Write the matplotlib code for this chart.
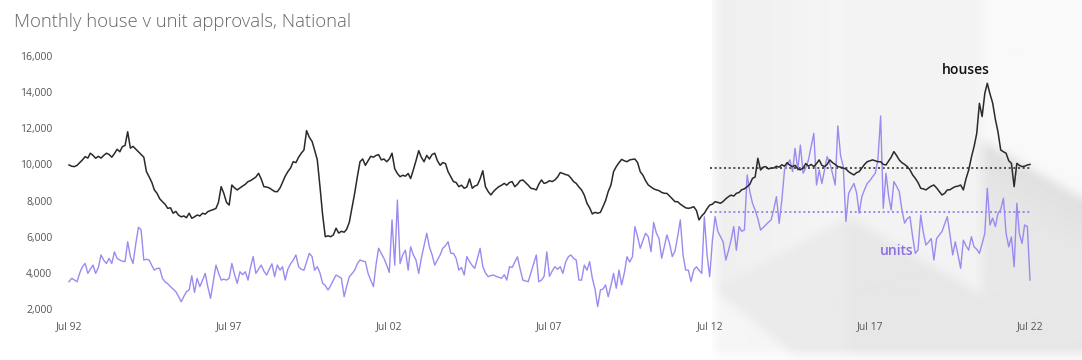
import numpy as np
import pandas as pd
import matplotlib
matplotlib.use("Agg")
import matplotlib.pyplot as plt

# ---------------- data (monthly, Jul 1992 .. Jul 2022) ----------------
start_month = "1992-07"
end_month = "2022-07"

houses = [
    9970, 9900, 9880, 9950, 10100, 10250, 10430, 10350, 10620, 10500, 10340, 10450,
    10350, 10500, 10620, 10550, 10400, 10600, 10840, 10700, 10980, 11050, 11810, 10900,
    11000, 10850, 10700, 10550, 10400, 9600, 9310, 9000, 8590, 8400, 8100, 7940,
    7800, 7570, 7600, 7300, 7400, 7200, 7100, 7150, 7050, 7300, 7020, 7100,
    7200, 7150, 7300, 7250, 7390, 7450, 7500, 7570, 7900, 8770, 8400, 7900,
    7750, 8860, 8700, 8590, 8700, 8800, 8900, 9050, 9100, 9200, 9300, 9510,
    9200, 8770, 8750, 8700, 8600, 8500, 8490, 8700, 9000, 9350, 9600, 9800,
    10150, 10100, 10400, 10620, 10800, 11870, 11500, 11280, 10800, 10250, 8800, 7200,
    6000, 6050, 6000, 6100, 6470, 6200, 6300, 6250, 6400, 6800, 7600, 8400,
    9300, 10150, 10300, 9950, 10200, 10450, 10400, 10500, 10540, 10250, 10300, 10150,
    10300, 10620, 9760, 9500, 9320, 9400, 9350, 9500, 9220, 9700, 10200, 10760,
    10400, 10150, 10500, 10300, 10550, 10620, 10200, 9950, 10100, 10050, 9600, 9320,
    9050, 9000, 8770, 8850, 8680, 8750, 9200, 8680, 8800, 8860, 9200, 9650,
    8770, 8500, 8310, 8500, 8650, 8770, 8850, 8950, 8850, 9000, 9050, 8770,
    8900, 9100, 9140, 9000, 8850, 8680, 8650, 8590, 8900, 9140, 8950, 9000,
    9100, 9050, 9140, 9300, 9550, 9500, 9440, 9400, 9250, 9050, 8950, 8750,
    8590, 8300, 7850, 7600, 7260, 7350, 7300, 7350, 7650, 8000, 8500, 8860,
    9600, 9880, 10100, 10280, 10200, 10150, 10250, 10280, 10300, 10100, 9600, 9400,
    9100, 8860, 8750, 8650, 8590, 8550, 8450, 8400, 8400, 8250, 8100, 7940,
    7940, 7800, 7700, 7600, 7570, 7600, 7660, 7450, 6930, 7150, 7300, 7550,
    7750, 7800, 7940, 7900, 7850, 7950, 8100, 8220, 8300, 8250, 8400, 8450,
    8600, 8650, 8770, 8900, 9230, 9300, 10340, 9690, 9850, 9880, 9750, 9800,
    9800, 9900, 9850, 9980, 9900, 10100, 9950, 9880, 9950, 9750, 9700, 9800,
    10050, 9900, 10000, 9880, 10050, 10250, 9950, 9880, 10000, 10250, 10100, 10000,
    9880, 9850, 9800, 9750, 9600, 9500, 9420, 9550, 9600, 9800, 10000, 10150,
    10200, 10250, 10200, 10150, 10150, 10000, 9970, 10200, 10400, 10710, 10500, 10250,
    10100, 10000, 9880, 9700, 9420, 9230, 9000, 8680, 8650, 8590, 8700, 8800,
    8860, 8700, 8500, 8310, 8400, 8590, 8600, 8700, 8770, 8800, 8860, 8590,
    9200, 9690, 10400, 10980, 11720, 13380, 12650, 13940, 14490, 13900, 13400, 12500,
    11800, 10800, 10700, 10620, 10200, 10060, 8770, 10060, 9950, 9880, 9900, 9970,
    10000,
]

units = [
    3510, 3700, 3600, 3510, 4000, 4340, 4520, 3970, 4200, 4430, 3970, 4300,
    4990, 4700, 4520, 4800, 4520, 5160, 4800, 4710, 4650, 4620, 5720, 4900,
    4520, 5600, 6520, 6380, 4710, 4750, 4710, 4400, 4150, 4250, 4250, 3700,
    3500, 3400, 3240, 3100, 2960, 2700, 2400, 2700, 2960, 3050, 3840, 2920,
    3700, 3240, 3600, 3970, 3200, 2590, 3500, 4430, 4000, 3600, 3650, 3600,
    3700, 4520, 3900, 3420, 4060, 3900, 4060, 3600, 4300, 4900, 3970, 4200,
    4430, 4100, 3880, 4200, 4500, 3790, 4430, 4150, 4340, 3600, 4200, 4500,
    4700, 4990, 4340, 4200, 4150, 4600, 5080, 4900, 4150, 4340, 4000, 3420,
    3300, 3050, 3300, 3600, 3880, 3800, 3700, 2680, 3240, 3790, 3950, 4150,
    4500, 4710, 4650, 4620, 3970, 3600, 3240, 4500, 5360, 5080, 4800, 4430,
    4020, 6930, 4430, 8030, 4520, 5000, 5250, 4150, 5440, 5000, 4710, 3970,
    4810, 5500, 6190, 5440, 5000, 4430, 4710, 5000, 5360, 5500, 5720, 5080,
    5080, 4800, 4150, 4300, 3880, 4900, 4620, 4400, 4250, 4800, 5360, 4340,
    4000, 3790, 3850, 3880, 3800, 3750, 3700, 3900, 3600, 4340, 4300, 4600,
    4890, 4200, 3600, 3550, 3510, 4000, 4500, 4990, 3510, 3600, 3810, 5160,
    3810, 4100, 4340, 4200, 4340, 3970, 4600, 4890, 4990, 4800, 4710, 3600,
    3600, 4430, 4150, 4620, 3700, 3110, 2130, 3050, 3100, 3330, 2680, 3300,
    3970, 3150, 4150, 3330, 4000, 4890, 4600, 4890, 6560, 6000, 5360, 5800,
    6190, 6000, 5170, 6790, 6200, 5900, 4810, 5500, 6100, 5620, 4900, 5200,
    5990, 6930, 5000, 4150, 4150, 3520, 4160, 4340, 4150, 3970, 7100, 5000,
    3790, 5800, 7110, 6300, 6000, 5720, 4710, 5250, 5800, 6560, 5250, 6560,
    6300, 6380, 9420, 8500, 7850, 7480, 7000, 6370, 6500, 6650, 6800, 6930,
    7500, 8220, 6740, 8000, 9690, 10000, 10250, 9600, 10890, 9690, 11070, 9510,
    9800, 10250, 11000, 11720, 8860, 9690, 8950, 9700, 10430, 10060, 9500, 8860,
    12130, 10500, 9880, 6840, 8400, 8680, 8950, 8400, 7300, 8220, 8600, 8950,
    9100, 9320, 9510, 10250, 12680, 7570, 9510, 8220, 7480, 9050, 8800, 8500,
    7500, 6750, 7000, 7110, 6000, 5080, 5260, 7200, 6280, 5540, 5700, 5900,
    4710, 5900, 6100, 6280, 6700, 7110, 6100, 4990, 5720, 5000, 4250, 5810,
    5500, 5260, 6000, 5440, 5300, 5080, 5600, 6190, 8680, 6650, 7030, 6560,
    7290, 7500, 8130, 6190, 5440, 5990, 4340, 7850, 6190, 5630, 6650, 6560,
    3600,
]

avg_start = "2012-07"
houses_avg = 9780
units_avg = 7350

y_ticks = [2000, 4000, 6000, 8000, 10000, 12000, 14000, 16000]
x_tick_dates = ["1992-07", "1997-07", "2002-07", "2007-07", "2012-07", "2017-07", "2022-07"]
x_tick_labels = ["Jul 92", "Jul 97", "Jul 02", "Jul 07", "Jul 12", "Jul 17", "Jul 22"]

title = "Monthly house v unit approvals, National"

# ---------------- figure ----------------
W, H = 1082, 360
fig = plt.figure(figsize=(W / 100, H / 100), dpi=100)
fig.patch.set_facecolor("white")

# decorative background (soft grey panels with diagonal shadows)
yy, xx = np.mgrid[0:H, 0:W].astype(float)
bg = np.full((H, W), 255.0)
panel = xx >= 715
bg[panel] = 239 + 7 * np.clip((xx[panel] - 715) / 132, 0, 1)
mid = (xx >= 847) & (xx < 982)
bg[mid] = 243
right = xx >= 982
bg[right] = 249
L1 = 217 + 0.58 * (xx - 847)
L2 = 140 + 0.58 * (xx - 982)
band = right & (yy > L2) & (yy <= L1)
bg[band] = 224 + 8 * ((yy[band] - L2[band]) / 60).clip(0, 1)
below1 = (xx >= 847) & (yy > L1)
bg[below1] = 231
low_left = panel & (xx < 847) & (yy > 290 + (xx - 715) * 0.82) & (yy > 217)
bg[low_left] = 246
shadow_left = panel & (xx < 847) & (yy > 217 + (847 - xx) * 0.55) & ~low_left
bg[shadow_left] = 235
bg[yy > 354] = 255
# soften edges
k = 7
pad = np.pad(bg, k, mode="edge")
cs = pad.cumsum(0).cumsum(1)
cs = np.pad(cs, ((1, 0), (1, 0)))
n = 2 * k + 1
bg = (cs[n:n + H, n:n + W] - cs[:H, n:n + W] - cs[n:n + H, :W] + cs[:H, :W]) / n / n
bg[xx < 712] = 255
rgb = np.dstack([bg, bg, bg]) / 255.0
bax = fig.add_axes([0, 0, 1, 1], zorder=0)
bax.imshow(rgb, aspect="auto", interpolation="bilinear")
bax.axis("off")

# main axes
left_px, right_px, top_px, bottom_px = 69, 1030, 56, 309
ax = fig.add_axes([left_px / W, 1 - bottom_px / H, (right_px - left_px) / W,
                   (bottom_px - top_px) / H], zorder=1)
ax.patch.set_alpha(0)

dates = pd.date_range(start_month, end_month, freq="MS")
ax.plot(dates, units, color="#9c8af0", lw=1.0, clip_on=False, zorder=3)
ax.plot(dates, houses, color="#2a2a2a", lw=1.1, clip_on=False, zorder=4)

avg_dates = [pd.Timestamp(avg_start), pd.Timestamp(end_month)]
ax.plot(avg_dates, [houses_avg, houses_avg], color="#333333", lw=1.2,
        linestyle=(0, (1.2, 1.6)), zorder=2)
ax.plot(avg_dates, [units_avg, units_avg], color="#8f78ea", lw=1.2,
        linestyle=(0, (1.2, 1.6)), zorder=2)

ax.set_xlim(dates[0], dates[-1])
ax.set_ylim(2000, 16000)
ax.set_yticks(y_ticks)
ax.set_yticklabels([f"{v:,}" for v in y_ticks])
ax.set_xticks([pd.Timestamp(d) for d in x_tick_dates])
ax.set_xticklabels(x_tick_labels)
for s in ax.spines.values():
    s.set_visible(False)
ax.tick_params(axis="both", length=0, labelsize=7.5, labelcolor="#555555")
ax.tick_params(axis="y", pad=12)
ax.tick_params(axis="x", pad=9)
for lab in ax.get_xticklabels() + ax.get_yticklabels():
    lab.set_family("Open Sans")

ax.text(pd.Timestamp("2020-07"), 15200, "houses", fontsize=10, fontweight="semibold",
        color="#111111", ha="center", va="center", family="Open Sans")
ax.text(pd.Timestamp("2018-05"), 5200, "units", fontsize=10, fontweight="semibold",
        color="#8a6ee6", ha="center", va="center", family="Open Sans")

fig.text(14 / W, 1 - 22 / H, title, fontsize=13.3, color="#666666",
         ha="left", va="center", family="Open Sans", fontweight="light")

fig.savefig("out.png", dpi=100)
